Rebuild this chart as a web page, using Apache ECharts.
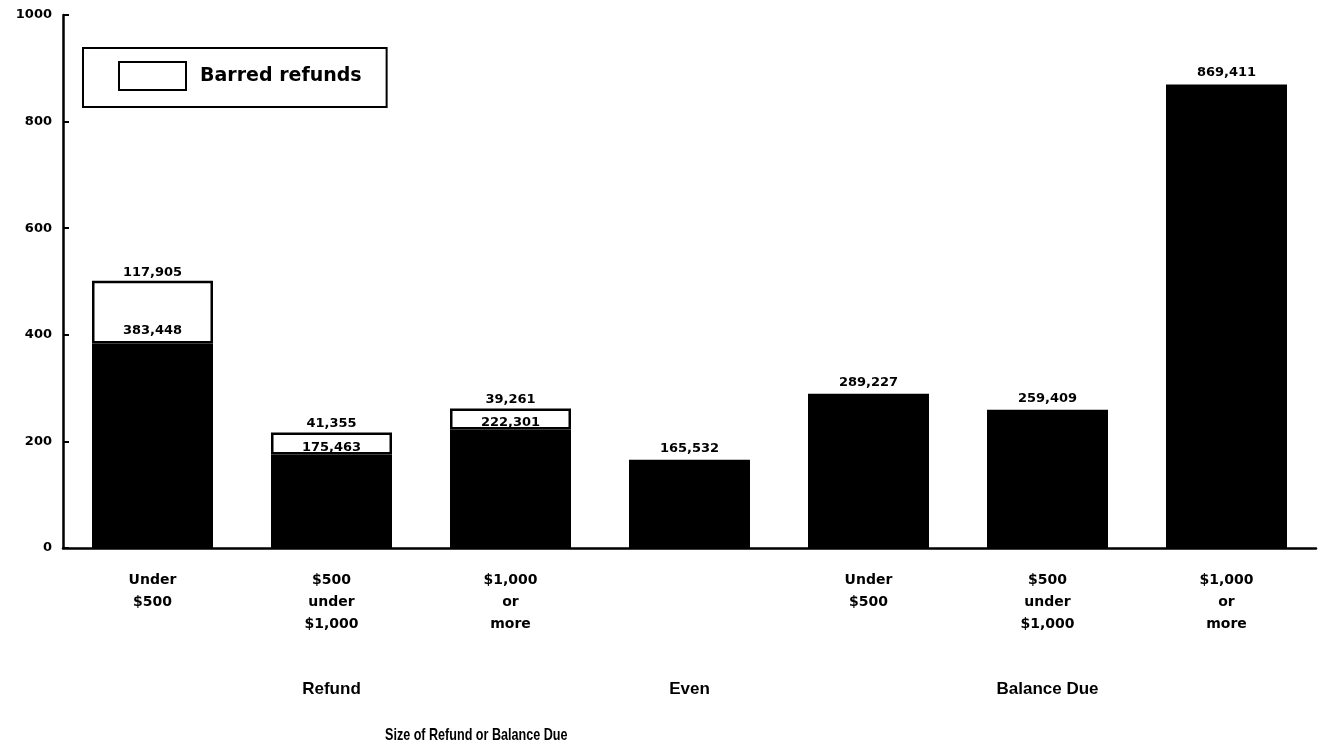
<!DOCTYPE html>
<html>
<head>
<meta charset="utf-8">
<script src="https://cdn.jsdelivr.net/npm/echarts@6/dist/echarts.min.js"></script>
<style>
  html, body { margin: 0; padding: 0; background: #fff; }
  #chart { width: 1327px; height: 745px; }
</style>
</head>
<body>
<div id="chart"></div>
<script>
// Size classes of refund or balance due
const categories = [
  'Under\n$500', '$500\nunder\n$1,000', '$1,000\nor\nmore',
  '',
  'Under\n$500', '$500\nunder\n$1,000', '$1,000\nor\nmore'
];
// Group headings shown under the size classes
const groupLabels = ['', 'Refund', '', 'Even', '', 'Balance Due', ''];

// Returns (count)
const returnsCount = [383448, 175463, 222301, 165532, 289227, 259409, 869411];
// Barred refunds (count), stacked on top of the refund returns
const barredRefunds = [117905, 41355, 39261, null, null, null, null];

const yTicks = [0, 200, 400, 600, 800, 1000]; // thousands

const WIDE = '"DejaVu Sans", Verdana, sans-serif';
const NARROW = '"Liberation Sans", Arial, Helvetica, sans-serif';
const fmt = v => v.toLocaleString('en-US');

// A returns label sitting inside a thin barred segment is tucked closer to the bar
const returnsData = returnsCount.map((v, i) => {
  const barred = barredRefunds[i];
  const thin = barred != null && barred < 60000;
  return { value: v, label: { distance: thin ? 0 : (barred != null ? 6 : 5) } };
});

const chart = echarts.init(document.getElementById('chart'), null, { renderer: 'canvas' });

chart.setOption({
  animation: false,
  backgroundColor: '#fff',
  textStyle: { fontFamily: WIDE, color: '#000', fontWeight: 'bold' },
  grid: { left: 63, right: 11, top: 15, bottom: 197 },
  legend: {
    data: ['Barred refunds'],
    left: 83,
    top: 48,
    orient: 'horizontal',
    icon: 'rect',
    borderColor: '#000',
    borderWidth: 2,
    padding: [13, 25, 16, 35],
    itemWidth: 67,
    itemHeight: 28,
    itemGap: 10,
    selectedMode: false,
    itemStyle: { color: '#fff', borderColor: '#000', borderWidth: 2 },
    textStyle: { fontFamily: WIDE, fontSize: 19, fontWeight: 'bold', color: '#000', padding: [0, 0, 0, 9] }
  },
  xAxis: [
    {
      type: 'category',
      data: categories,
      axisLine: { lineStyle: { color: '#000', width: 2.5 } },
      axisTick: { show: false },
      axisLabel: {
        interval: 0,
        margin: 21,
        fontFamily: WIDE,
        fontSize: 14,
        fontWeight: 'bold',
        color: '#000',
        lineHeight: 22
      }
    },
    {
      type: 'category',
      position: 'bottom',
      data: groupLabels,
      axisLine: { show: false },
      axisTick: { show: false },
      axisLabel: {
        interval: 0,
        margin: 133,
        fontFamily: NARROW,
        fontSize: 17,
        fontWeight: 'bold',
        color: '#000'
      }
    }
  ],
  yAxis: {
    type: 'value',
    min: 0,
    max: 1000000,
    interval: 200000,
    splitLine: { show: false },
    axisLine: { show: true, lineStyle: { color: '#000', width: 2.5 } },
    axisTick: { show: true, inside: true, length: 6, lineStyle: { color: '#000', width: 2 } },
    axisLabel: {
      margin: 11,
      fontFamily: WIDE,
      fontSize: 13,
      fontWeight: 'bold',
      color: '#000',
      formatter: v => yTicks.includes(v / 1000) ? String(v / 1000) : ''
    }
  },
  series: [
    {
      name: 'Returns',
      type: 'bar',
      stack: 'total',
      z: 3,
      barWidth: 121,
      data: returnsData,
      itemStyle: { color: '#000' },
      label: {
        show: true,
        position: 'top',
        distance: 5,
        fontFamily: WIDE,
        fontSize: 13,
        fontWeight: 'bold',
        color: '#000',
        formatter: p => fmt(p.value)
      }
    },
    {
      name: 'Barred refunds',
      type: 'bar',
      stack: 'total',
      z: 2,
      barWidth: 121,
      data: barredRefunds,
      itemStyle: { color: '#fff', borderColor: '#000', borderWidth: 2.5 },
      label: {
        show: true,
        position: 'top',
        distance: 2,
        fontFamily: WIDE,
        fontSize: 13,
        fontWeight: 'bold',
        color: '#000',
        formatter: p => p.value == null ? '' : fmt(p.value)
      }
    }
  ],
  graphic: [
    {
      type: 'text',
      left: 385,
      top: 727,
      scaleX: 0.74,
      style: {
        text: 'Size of Refund or Balance Due',
        font: 'bold 17px ' + NARROW,
        fill: '#000'
      }
    }
  ]
});
</script>
</body>
</html>
